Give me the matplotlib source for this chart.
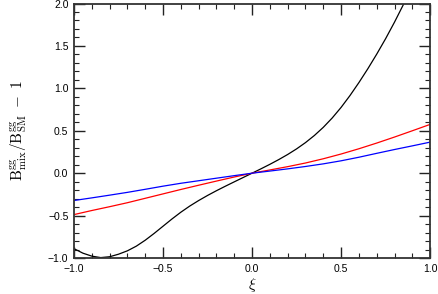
import matplotlib
matplotlib.use("Agg")
import matplotlib.pyplot as plt
from matplotlib.ticker import MultipleLocator

# ratio curves
xi_black = [-1.0, -0.95, -0.9, -0.85, -0.8, -0.75, -0.7, -0.65, -0.6, -0.55,
            -0.5, -0.45, -0.4, -0.35, -0.3, -0.25, -0.2, -0.15, -0.1, -0.05,
            0.0, 0.05, 0.1, 0.15, 0.2, 0.25, 0.3, 0.35, 0.4, 0.45,
            0.5, 0.55, 0.6, 0.65, 0.7, 0.75, 0.8, 0.85, 0.9]
r_black = [-0.89, -0.943, -0.978, -0.995, -0.985, -0.955, -0.915, -0.86, -0.79, -0.71,
           -0.625, -0.54, -0.46, -0.3875, -0.3225, -0.2625, -0.2065, -0.1535, -0.102, -0.051,
           0.0, 0.0515, 0.1045, 0.1605, 0.2205, 0.2865, 0.3605, 0.4445, 0.5405, 0.6505,
           0.7755, 0.9155, 1.068, 1.2305, 1.403, 1.5855, 1.7805, 1.988, 2.208]

xi = [-1.0, -0.9, -0.8, -0.7, -0.6, -0.5, -0.4, -0.3, -0.2, -0.1, 0.0,
      0.1, 0.2, 0.3, 0.4, 0.5, 0.6, 0.7, 0.8, 0.9, 1.0]
r_red = [-0.488, -0.44, -0.395, -0.348, -0.296, -0.244, -0.192, -0.142, -0.093, -0.045, 0.0,
         0.038, 0.077, 0.12, 0.17, 0.226, 0.288, 0.355, 0.426, 0.50, 0.575]
r_blue = [-0.322, -0.291, -0.259, -0.226, -0.19, -0.153, -0.119, -0.089, -0.059, -0.029, 0.0,
          0.025, 0.051, 0.079, 0.11, 0.146, 0.188, 0.234, 0.279, 0.322, 0.366]

plt.rcParams['mathtext.fontset'] = 'cm'

fig = plt.figure(figsize=(4.38, 2.94), dpi=100)
ax = fig.add_axes([0.169, 0.1224, 0.813, 0.8656])

ax.plot(xi_black, r_black, color='black', lw=0.9)
ax.plot(xi, r_red, color='red', lw=0.9)
ax.plot(xi, r_blue, color='blue', lw=0.9)

ax.set_xlim(-1, 1)
ax.set_ylim(-1, 2)
ax.xaxis.set_major_locator(MultipleLocator(0.5))
ax.xaxis.set_minor_locator(MultipleLocator(0.1))
ax.yaxis.set_major_locator(MultipleLocator(0.5))
ax.yaxis.set_minor_locator(MultipleLocator(0.1))
ax.tick_params(which='both', direction='in', top=True, right=True, color='#222222')
ax.tick_params(which='major', length=8, width=1.0, pad=4)
ax.tick_params(which='minor', length=3.5, width=0.8)
for lab in ax.get_xticklabels() + ax.get_yticklabels():
    lab.set_fontfamily('Liberation Sans')
    lab.set_fontsize(7.5)
for s in ax.spines.values():
    s.set_linewidth(1.3)
    s.set_color('#333333')

ax.set_xlabel(r'$\xi$', fontsize=11, labelpad=2)
ax.set_ylabel(r'$\mathrm{B^{gg}_{mix}/B^{gg}_{SM}}\ -\ 1$', fontsize=11, labelpad=14)

fig.savefig('out.png', dpi=100)
